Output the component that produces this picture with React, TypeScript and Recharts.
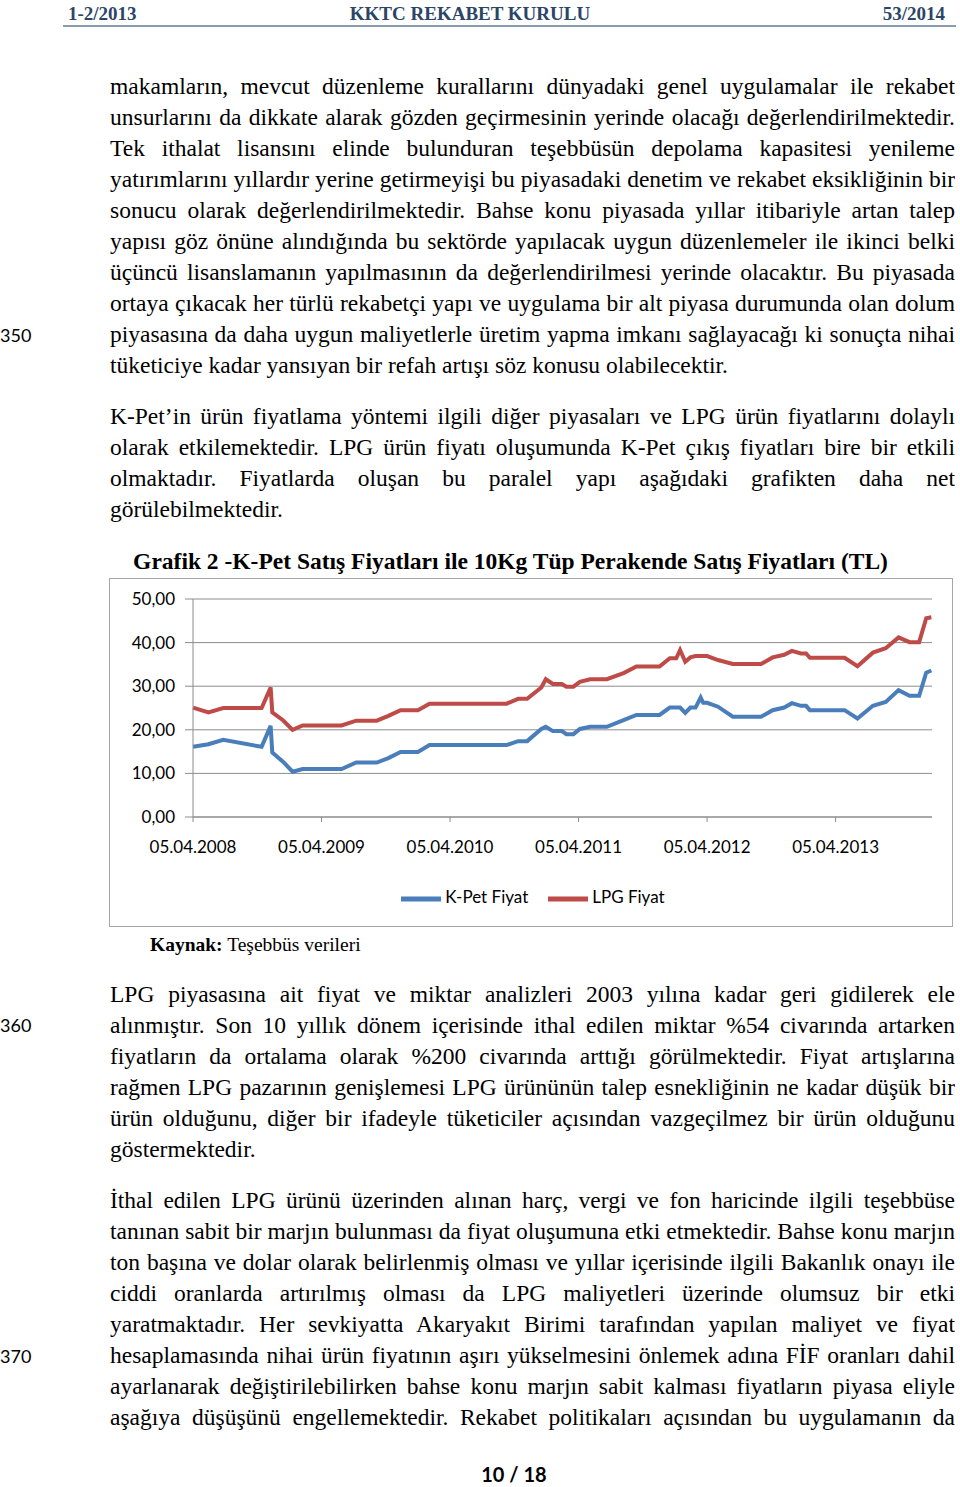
import React from 'react';
import {
  LineChart,
  Line,
  XAxis,
  YAxis,
  CartesianGrid,
  Legend
} from 'recharts';

// years after 05.04.2008 for every price change
const yearOffsets = [
  0, 0.12, 0.235, 0.534, 0.604, 0.617, 0.7, 0.775, 0.853, 1.156, 1.27, 1.43, 1.52, 1.615, 1.75,
  1.84, 2.44, 2.53, 2.6, 2.71, 2.745, 2.8, 2.87, 2.905, 2.96, 3.01, 3.09, 3.22, 3.35, 3.45, 3.63,
  3.71, 3.76, 3.79, 3.83, 3.87, 3.91, 3.95, 3.97, 4.0, 4.085, 4.2, 4.42, 4.51, 4.6, 4.66, 4.73,
  4.77, 4.8, 5.07, 5.17, 5.29, 5.39, 5.49, 5.575, 5.65, 5.705, 5.745
];

const kPetPrices = [
  16.1, 16.7, 17.7, 16.1, 20.9, 14.8, 12.7, 10.4, 11.0, 11.0, 12.5, 12.5, 13.5, 14.9, 14.9,
  16.5, 16.5, 17.4, 17.4, 20.2, 20.7, 19.7, 19.7, 19.0, 19.0, 20.2, 20.7, 20.7, 22.2, 23.4, 23.4,
  25.1, 25.1, 25.1, 23.9, 25.1, 25.1, 27.4, 26.2, 26.2, 25.3, 23.0, 23.0, 24.5, 25.1, 26.1, 25.5,
  25.5, 24.5, 24.5, 22.6, 25.5, 26.4, 29.1, 27.8, 27.8, 33.1, 33.6
];

const lpgPrices = [
  25.1, 24.0, 25.0, 25.0, 29.7, 24.0, 22.2, 20.0, 21.0, 21.0, 22.1, 22.1, 23.2, 24.5, 24.5,
  26.0, 26.0, 27.1, 27.1, 29.7, 31.6, 30.5, 30.5, 29.9, 29.9, 31.0, 31.6, 31.6, 33.0, 34.5, 34.5,
  36.4, 36.4, 38.3, 35.6, 36.6, 36.9, 36.9, 36.9, 36.9, 36.0, 35.1, 35.1, 36.6, 37.2, 38.1, 37.5,
  37.5, 36.5, 36.5, 34.6, 37.7, 38.7, 41.2, 40.1, 40.1, 45.6, 45.8
];

const xTickLabels = ['05.04.2008', '05.04.2009', '05.04.2010', '05.04.2011', '05.04.2012', '05.04.2013'];
const xTicks = [0, 1, 2, 3, 4, 5];
const yTicks = [0, 10, 20, 30, 40, 50];

const chartData = yearOffsets.map((t, i) => ({
  t,
  kpet: kPetPrices[i],
  lpg: lpgPrices[i]
}));

const COLOR_KPET = '#4a7ebb';
const COLOR_LPG = '#be4b48';
const GRID = '#8c8c8c';
const SANS = 'Lato, "Open Sans", sans-serif';
const SERIF = '"Liberation Serif", "Times New Roman", serif';

const para1 = [
  'makamların, mevcut düzenleme kurallarını dünyadaki genel uygulamalar ile rekabet',
  'unsurlarını da dikkate alarak gözden geçirmesinin yerinde olacağı değerlendirilmektedir.',
  'Tek ithalat lisansını elinde bulunduran teşebbüsün depolama kapasitesi yenileme',
  'yatırımlarını yıllardır yerine getirmeyişi bu piyasadaki denetim ve rekabet eksikliğinin bir',
  'sonucu olarak değerlendirilmektedir. Bahse konu piyasada yıllar itibariyle artan talep',
  'yapısı göz önüne alındığında bu sektörde yapılacak uygun düzenlemeler ile ikinci belki',
  'üçüncü lisanslamanın yapılmasının da değerlendirilmesi yerinde olacaktır. Bu piyasada',
  'ortaya çıkacak her türlü rekabetçi yapı ve uygulama bir alt piyasa durumunda olan dolum',
  'piyasasına da daha uygun maliyetlerle üretim yapma imkanı sağlayacağı ki sonuçta nihai',
  'tüketiciye kadar yansıyan bir refah artışı söz konusu olabilecektir.'
];

const para2 = [
  'K-Pet’in ürün fiyatlama yöntemi ilgili diğer piyasaları ve LPG ürün fiyatlarını dolaylı',
  'olarak etkilemektedir. LPG ürün fiyatı oluşumunda K-Pet çıkış fiyatları bire bir etkili',
  'olmaktadır. Fiyatlarda oluşan bu paralel yapı aşağıdaki grafikten daha net',
  'görülebilmektedir.'
];

const para3 = [
  'LPG piyasasına ait fiyat ve miktar analizleri 2003 yılına kadar geri gidilerek ele',
  'alınmıştır. Son 10 yıllık dönem içerisinde ithal edilen miktar %54 civarında artarken',
  'fiyatların da ortalama olarak %200 civarında arttığı görülmektedir. Fiyat artışlarına',
  'rağmen LPG pazarının genişlemesi LPG ürününün talep esnekliğinin ne kadar düşük bir',
  'ürün olduğunu, diğer bir ifadeyle tüketiciler açısından vazgeçilmez bir ürün olduğunu',
  'göstermektedir.'
];

const para4 = [
  'İthal edilen LPG ürünü üzerinden alınan harç, vergi ve fon haricinde ilgili teşebbüse',
  'tanınan sabit bir marjın bulunması da fiyat oluşumuna etki etmektedir. Bahse konu marjın',
  'ton başına ve dolar olarak belirlenmiş olması ve yıllar içerisinde ilgili Bakanlık onayı ile',
  'ciddi oranlarda artırılmış olması da LPG maliyetleri üzerinde olumsuz bir etki',
  'yaratmaktadır. Her sevkiyatta Akaryakıt Birimi tarafından yapılan maliyet ve fiyat',
  'hesaplamasında nihai ürün fiyatının aşırı yükselmesini önlemek adına FİF oranları dahil',
  'ayarlanarak değiştirilebilirken bahse konu marjın sabit kalması fiyatların piyasa eliyle',
  'aşağıya düşüşünü engellemektedir. Rekabet politikaları açısından bu uygulamanın da'
];

const Paragraph = ({ lines, top, lastJustified = false }: { lines: string[]; top: number; lastJustified?: boolean }) => (
  <>
    {lines.map((line, i) => {
      const isLast = i === lines.length - 1 && !lastJustified;
      return (
        <div
          key={i}
          style={{
            position: 'absolute',
            left: 110,
            width: 845,
            top: top + i * 31 - 15.5,
            height: 31,
            lineHeight: '31px',
            fontFamily: SERIF,
            fontSize: 23.5,
            color: '#000',
            wordSpacing: isLast ? 0 : -3,
            textAlign: isLast ? 'left' : 'justify',
            textAlignLast: isLast ? 'left' : 'justify',
            overflow: 'hidden'
          }}
        >
          {line}
        </div>
      );
    })}
  </>
);

const LineNo = ({ n, y }: { n: string; y: number }) => (
  <div style={{ position: 'absolute', left: 0, top: y - 12, lineHeight: '24px', fontFamily: SANS, fontSize: 18, color: '#000' }}>
    {n}
  </div>
);

const headerStyle: React.CSSProperties = {
  position: 'absolute',
  top: 2,
  lineHeight: '24px',
  fontFamily: SERIF,
  fontWeight: 'bold',
  fontSize: 19,
  color: '#2b4567'
};

export default function App() {
  return (
    <div style={{ position: 'absolute', left: 0, top: 0, width: 960, height: 1487, background: '#fff', overflow: 'hidden' }}>
      {/* üst bilgi */}
      <div style={{ ...headerStyle, left: 68 }}>1-2/2013</div>
      <div style={{ ...headerStyle, left: 0, width: 940, textAlign: 'center' }}>KKTC REKABET KURULU</div>
      <div style={{ ...headerStyle, right: 15 }}>53/2014</div>
      <div style={{ position: 'absolute', left: 63, top: 25, width: 893, height: 2, background: '#8a9bb0' }} />

      <LineNo n="350" y={335} />
      <LineNo n="360" y={1025} />
      <LineNo n="370" y={1356} />

      <Paragraph lines={para1} top={86} />
      <Paragraph lines={para2} top={416} />

      <div
        style={{
          position: 'absolute',
          left: 0,
          width: 1021,
          top: 546,
          lineHeight: '30px',
          textAlign: 'center',
          fontFamily: SERIF,
          fontWeight: 'bold',
          fontSize: 23.5,
          color: '#000'
        }}
      >
        Grafik 2 -K-Pet Satış Fiyatları ile 10Kg Tüp Perakende Satış Fiyatları (TL)
      </div>

      {/* Grafik */}
      <div
        style={{
          position: 'absolute',
          left: 109,
          top: 578,
          width: 844,
          height: 349,
          border: '1px solid #a6a6a6',
          boxSizing: 'border-box'
        }}
      >
        <LineChart
          width={842}
          height={347}
          data={chartData}
          margin={{ top: 20, right: 20, left: 0, bottom: 7 }}
        >
          <CartesianGrid vertical={false} stroke={GRID} strokeWidth={1} />
          <XAxis
            dataKey="t"
            type="number"
            domain={[0, 5.75]}
            ticks={xTicks}
            tickFormatter={(v) => xTickLabels[v]}
            stroke={GRID}
            tickSize={5}
            tickMargin={19}
            height={62}
            tick={{ fill: '#000', fontSize: 17, fontFamily: SANS }}
          />
          <YAxis
            domain={[0, 50]}
            ticks={yTicks}
            tickFormatter={(v) => v.toFixed(2).replace('.', ',')}
            stroke={GRID}
            width={83}
            tickSize={8}
            tickMargin={10}
            tick={{ fill: '#000', fontSize: 17, fontFamily: SANS }}
          />
          <Legend
            verticalAlign="bottom"
            iconSize={40}
            wrapperStyle={{ paddingLeft: 22 }}
            formatter={(v) => (
              <span style={{ color: '#000', fontFamily: SANS, fontSize: 17, paddingRight: 10 }}>{v}</span>
            )}
          />
          <Line
            type="linear"
            dataKey="kpet"
            name="K-Pet Fiyat"
            stroke={COLOR_KPET}
            strokeWidth={4}
            dot={false}
            legendType="plainline"
            isAnimationActive={false}
          />
          <Line
            type="linear"
            dataKey="lpg"
            name="LPG Fiyat"
            stroke={COLOR_LPG}
            strokeWidth={4}
            dot={false}
            legendType="plainline"
            isAnimationActive={false}
          />
        </LineChart>
      </div>

      <div style={{ position: 'absolute', left: 150, top: 932, lineHeight: '26px', fontFamily: SERIF, fontSize: 19.5, color: '#000' }}>
        <b>Kaynak:</b> Teşebbüs verileri
      </div>

      <Paragraph lines={para3} top={994} />
      <Paragraph lines={para4} top={1200} lastJustified />

      <div
        style={{
          position: 'absolute',
          left: 0,
          width: 1028,
          top: 1462,
          lineHeight: '24px',
          textAlign: 'center',
          fontFamily: SANS,
          fontWeight: 'bold',
          fontSize: 20,
          color: '#000'
        }}
      >
        10 / 18
      </div>
    </div>
  );
}
